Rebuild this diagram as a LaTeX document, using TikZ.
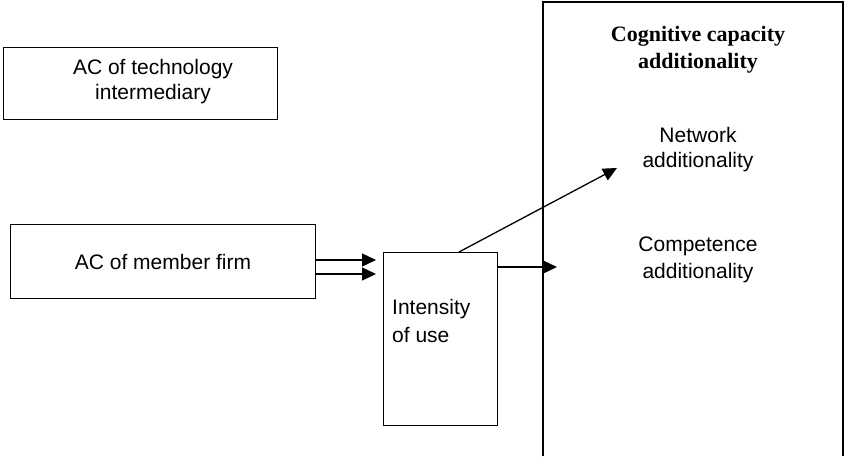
\documentclass[tikz,border=0pt]{standalone}
\usepackage{fontspec}
\setmainfont{Liberation Sans}
\newfontfamily\serifbold{Liberation Serif}
\usetikzlibrary{arrows.meta}
\begin{document}
\begin{tikzpicture}[x=1pt,y=-1pt,
  box/.style={draw,line width=1.3pt},
  lbl/.style={font=\fontsize{21}{26}\selectfont,align=center,inner sep=0pt},
  blbl/.style={font=\serifbold\bfseries\fontsize{22}{27}\selectfont,align=center,inner sep=0pt},
  arr/.style={line width=1.3pt,-{Triangle[length=14pt,width=13pt]}}]
\useasboundingbox (0,0) rectangle (846,456);
\node[box,minimum width=274pt,minimum height=72pt,anchor=north west] (tech) at (3,47) {};
\node[lbl] (tech1) at (153,69) {AC of technology};
\node[lbl] (tech2) at (153,94) {intermediary};
\node[box,minimum width=305pt,minimum height=74pt,anchor=north west] (firm) at (10,224) {};
\node[lbl] (firmt) at (163,262) {AC of member firm};
\node[box,minimum width=114pt,minimum height=173pt,anchor=north west] (use) at (383,252) {};
\node[lbl,anchor=west] (use1) at (392,309) {Intensity};
\node[lbl,anchor=west] (use2) at (392,335) {of use};
\draw[line width=1.5pt] (543,456) |- (843,2) -- (843,456);
\node[blbl] (cog1) at (698,36) {Cognitive capacity};
\node[blbl] (cog2) at (698,63) {additionality};
\node[lbl] (net1) at (698,135) {Network};
\node[lbl] (net2) at (698,162) {additionality};
\node[lbl] (comp1) at (698,246) {Competence};
\node[lbl] (comp2) at (698,273) {additionality};
\coordinate (a1s) at (315,260); \coordinate (a1e) at (376,260);
\coordinate (a2s) at (315,274); \coordinate (a2e) at (376,274);
\draw[arr] (a1s) -- (a1e);
\draw[arr] (a2s) -- (a2e);
\coordinate (ds) at (459,252); \coordinate (de) at (617,168);
\draw[arr] (ds) -- (de);
\coordinate (hs) at (497,267); \coordinate (he) at (557,267);
\draw[arr] (hs) -- (he);
\end{tikzpicture}
\end{document}
